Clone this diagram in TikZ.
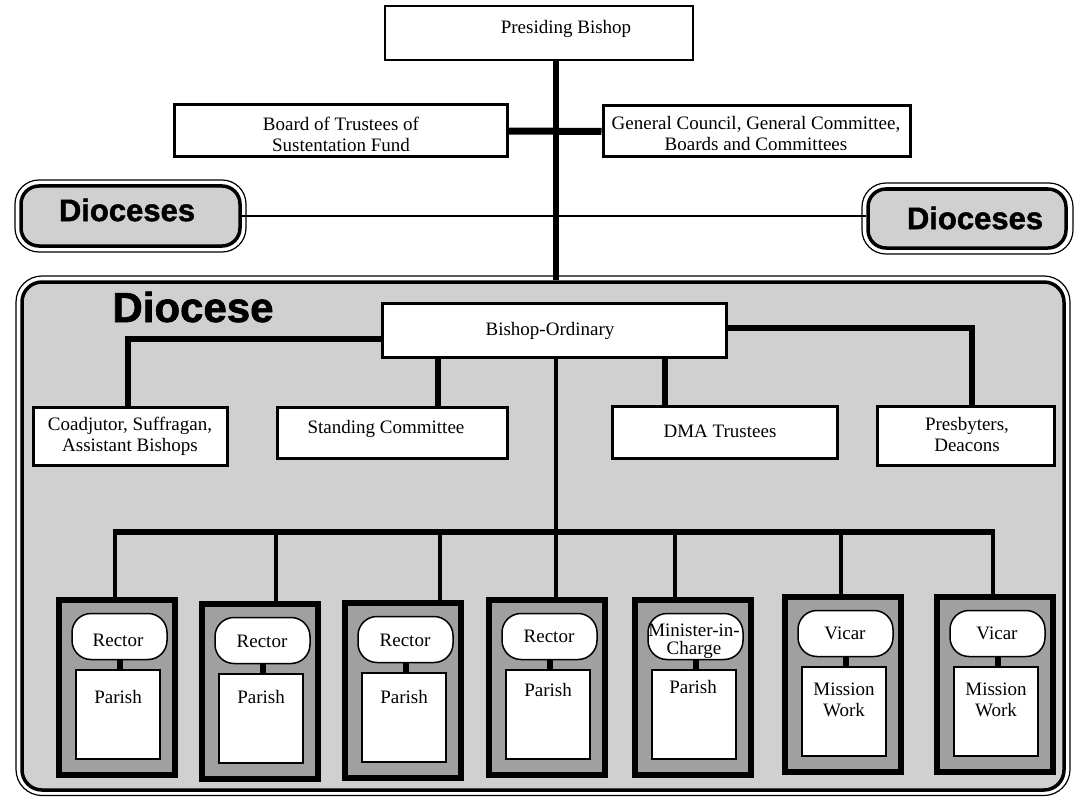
\documentclass[tikz,border=0pt]{standalone}
\usepackage{fontspec}
\setmainfont{Liberation Serif}
\newfontfamily\blackfont{Liberation Sans Bold}[FakeBold=1.5]
\definecolor{dgray}{HTML}{D0D0D0}
\definecolor{fgray}{HTML}{A0A0A0}
\tikzset{
  box/.style={draw, line width=3pt, fill=white, inner sep=0pt, rectangle},
  lbl/.style={font=\fontsize{19}{21}\selectfont, align=center, inner sep=0pt},
  head/.style={font=\blackfont\fontsize{31}{31}\selectfont, inner sep=0pt},
  ring/.style={draw, line width=1.2pt},
  grouparea/.style={draw, line width=3.5pt, fill=dgray, inner sep=0pt},
  frame/.style={draw, line width=6pt, fill=fgray, inner sep=0pt, minimum width=116pt, minimum height=175pt},
  role/.style={draw, line width=1.5pt, fill=white, rounded corners=19pt, inner sep=0pt, minimum width=95pt, minimum height=46pt},
  unitbox/.style={draw, line width=1.5pt, fill=white, inner sep=0pt, minimum width=84pt, minimum height=89pt},
  heavy/.style={line width=6pt},
  medium/.style={line width=4.5pt},
  light/.style={line width=2pt},
}
\newcommand\punit[3]{%
  \node[frame] (fr#1) at ({#2+61},{#3+90.5}) {};
  \node[role] (ro#1) at ({#2+63.5},{#3+39.5}) {};
  \node[unitbox] (un#1) at ({#2+62},{#3+117.5}) {};
  \draw[line width=6pt] (ro#1.south) -- (ro#1.south |- un#1.north);
}
\begin{document}
\begin{tikzpicture}[x=1pt,y=-1pt]
\useasboundingbox (0,0) rectangle (1074,797);
\fill[white] (0,0) rectangle (1074,797);

% top level
\node[box, line width=2.5pt, minimum width=308pt, minimum height=54pt] (pres) at (539,33) {};
\node[lbl] (presT) at (566,29) {Presiding Bishop};

\node[box, minimum width=333pt, minimum height=52pt] (board) at (340.5,131) {};
\node[lbl] (boardT) at (341,134) {Board of Trustees of\\Sustentation Fund};
\node[box, minimum width=307pt, minimum height=51pt] (gen) at (756.5,131.5) {};
\node[lbl] (genT) at (756,134) {General Council, General Committee,\\Boards and Committees};

% dioceses
\draw[ring, rounded corners=24pt] (15,180) rectangle (246,252);
\node[grouparea, rounded corners=18pt, minimum width=219pt, minimum height=60pt] (dl) at (130.5,216) {};
\node[head] (dlT) at (127,210) {Dioceses};
\draw[ring, rounded corners=24pt] (862,183) rectangle (1073,254);
\node[grouparea, rounded corners=18pt, minimum width=198pt, minimum height=59pt] (dr) at (967,218.5) {};
\node[head] (drT) at (975,218) {Dioceses};

% diocese area
\draw[ring, rounded corners=26pt] (16,276) rectangle (1070,795.5);
\node[grouparea, rounded corners=20pt, minimum width=1042pt, minimum height=508pt] (dio) at (543,536) {};
\node[head, font=\blackfont\fontsize{42}{42}\selectfont] (dioT) at (193,307) {Diocese};

% connectors top
\draw[heavy] (556,0 |- pres.south) -- (556,0 |- dio.north);
\draw[line width=7pt] (board.east) -- (gen.west);
\draw[light] (dl.east) -- (dl.east -| dr.west);

% bishop ordinary level
\node[box, minimum width=344pt, minimum height=54pt] (bo) at (554,330) {};
\node[lbl] (boT) at (550,331) {Bishop-Ordinary};

\node[box, minimum width=194pt, minimum height=58pt] (coad) at (130,436) {};
\node[lbl] (coadT) at (130,436) {Coadjutor, Suffragan,\\Assistant Bishops};
\node[box, minimum width=230pt, minimum height=51pt] (stand) at (392,432.5) {};
\node[lbl] (standT) at (386,429) {Standing Committee};
\node[box, minimum width=225pt, minimum height=52pt] (dma) at (724.5,432) {};
\node[lbl] (dmaT) at (720,431) {DMA Trustees};
\node[box, minimum width=177pt, minimum height=59pt] (presb) at (965.5,435.5) {};
\node[lbl] (presbT) at (967,434) {Presbyters,\\Deacons};

\draw[heavy] (bo.west |- 0,339) -| (128,0 |- coad.north);
\draw[heavy] (bo.east |- 0,328) -| (972,0 |- presb.north);
\draw[heavy] (438,0 |- bo.south) -- (438,0 |- stand.north);
\draw[heavy] (665,0 |- bo.south) -- (665,0 |- dma.north);

% parish units
\punit{1}{56}{597}
\punit{2}{199}{601}
\punit{3}{342}{600}
\punit{4}{486}{597}
\punit{5}{632}{597}
\punit{6}{782}{594}
\punit{7}{934}{594}

\node[lbl] (tr1) at (118,640) {Rector};
\node[lbl] (tu1) at (118,697) {Parish};
\node[lbl] (tr2) at (262,641) {Rector};
\node[lbl] (tu2) at (261,697) {Parish};
\node[lbl] (tr3) at (405,640) {Rector};
\node[lbl] (tu3) at (404,697) {Parish};
\node[lbl] (tr4) at (549,636) {Rector};
\node[lbl] (tu4) at (548,690) {Parish};
\node[lbl, font=\fontsize{19}{18}\selectfont] (tr5) at (694,641) {Minister-in-\\Charge};
\node[lbl] (tu5) at (693,687) {Parish};
\node[lbl] (tr6) at (845,633) {Vicar};
\node[lbl] (tu6) at (844,700) {Mission\\Work};
\node[lbl] (tr7) at (997,633) {Vicar};
\node[lbl] (tu7) at (996,700) {Mission\\Work};

% bus and drops
\coordinate (bus) at (556,532);
\draw[medium] (556,0 |- bo.south) -- (bus);
\draw[heavy] (113,0 |- bus) -- (993,0 |- bus);
\draw[medium] (115,0 |- bus) -- (115,0 |- fr1.north);
\draw[medium] (276,0 |- bus) -- (276,0 |- fr2.north);
\draw[medium] (440,0 |- bus) -- (440,0 |- fr3.north);
\draw[medium] (556,0 |- bus) -- (556,0 |- fr4.north);
\draw[medium] (675,0 |- bus) -- (675,0 |- fr5.north);
\draw[medium] (841,0 |- bus) -- (841,0 |- fr6.north);
\draw[medium] (993,529) -- (993,0 |- fr7.north);
\end{tikzpicture}
\end{document}
